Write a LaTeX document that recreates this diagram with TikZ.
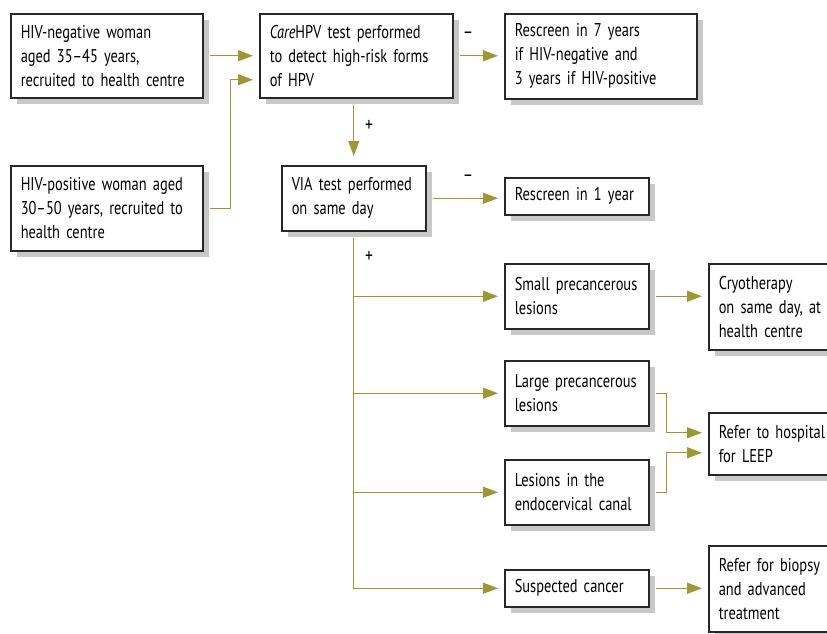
\documentclass[tikz,border=0pt]{standalone}
\usepackage{fontspec}
\setmainfont{PT Sans}[FakeStretch=0.78, WordSpace=0.85]
\usetikzlibrary{positioning, arrows.meta, shadows}
\definecolor{olivearrow}{RGB}{158,152,48}
\definecolor{boxshadow}{RGB}{200,200,200}
\definecolor{boxline}{RGB}{40,40,40}
\tikzset{
  flowbox/.style={draw=boxline, line width=1.5pt, fill=white, anchor=north west,
    align=left, inner xsep=10pt, inner ysep=0pt, font=\fontsize{18.5}{24}\selectfont,
    drop shadow={shadow xshift=6pt, shadow yshift=-6pt, fill=boxshadow, opacity=1}},
  flow/.style={draw=olivearrow, line width=1.4pt, -{Triangle[length=15pt,width=11pt]},
    shorten <=6pt, shorten >=6pt},
  sign/.style={font=\fontsize{20}{20}\selectfont},
}

\begin{document}
\begin{tikzpicture}[x=1pt, y=-1pt]
        \clip (0,0) rectangle (827,633);
        % boxes
        \node [flowbox, text width=172pt, minimum height=84pt] (hivneg) at (10,13) {HIV-negative woman\\aged 35--45 years,\\recruited to health centre};
        \node [flowbox, text width=172pt, minimum height=85pt] (hivpos) at (10,165) {HIV-positive woman aged\\30--50 years, recruited to\\health centre};
        \node [flowbox, text width=173pt, minimum height=84pt] (care) at (259,13) {\textit{Care}HPV test performed\\to detect  high-risk forms\\of HPV};
        \node [flowbox, text width=172pt, minimum height=85pt] (rescreen7) at (504,13) {Rescreen in 7 years\\if HIV-negative and\\3 years if HIV-positive};
        \node [flowbox, text width=124pt, minimum height=65pt] (via) at (281,165) {VIA test performed\\on same day};
        \node [flowbox, text width=124pt, minimum height=37pt] (rescreen1) at (504,177) {Rescreen in 1 year};
        \node [flowbox, text width=124pt, minimum height=65pt] (small) at (504,263) {Small precancerous\\lesions};
        \node [flowbox, text width=124pt, minimum height=65pt] (large) at (504,360) {Large precancerous\\lesions};
        \node [flowbox, text width=124pt, minimum height=65pt] (lesions) at (504,459) {Lesions in the\\endocervical canal};
        \node [flowbox, text width=124pt, minimum height=37pt] (cancer) at (504,569) {Suspected cancer};
        \node [flowbox, text width=110pt, minimum height=86pt] (cryo) at (708,263) {Cryotherapy\\on same day, at\\health centre};
        \node [flowbox, text width=110pt, minimum height=62pt] (hosp) at (708,412) {Refer to hospital\\for LEEP};
        \node [flowbox, text width=110pt, minimum height=86pt] (biopsy) at (708,545) {Refer for biopsy\\and advanced\\treatment};
        % test results
        \node [sign] (minus1) at (468,35) {--};
        \node [sign] (minus2) at (468,178) {--};
        \node [sign] (plus1) at (369,126) {+};
        \node [sign] (plus2) at (369,257) {+};
        % arrows
        \draw [flow] (hivneg.east) -- (care.west);
        \draw [flow] (hivpos.east) -- ++(27,0) |- ([yshift=-24pt]care.west);
        \draw [flow] (care.east) -- (care.east -| rescreen7.west);
        \draw [flow, shorten >=9pt] (via.north |- care.south) -- (via.north);
        \draw [flow] (via.east) -- (via.east -| rescreen1.west);
        \draw [flow] (via.south) |- (cancer.west);
        \draw [flow, shorten <=0pt] (via.south |- small.west) -- (small.west);
        \draw [flow, shorten <=0pt] (via.south |- large.west) -- (large.west);
        \draw [flow, shorten <=0pt] (via.south |- lesions.west) -- (lesions.west);
        \draw [flow] (small.east) -- (small.east -| cryo.west);
        \draw [flow] (large.east) -- ++(17,0) |- ([yshift=11pt]hosp.west);
        \draw [flow] (lesions.east) -- ++(17,0) |- ([yshift=-9pt]hosp.west);
        \draw [flow] (cancer.east) -- (cancer.east -| biopsy.west);
    \end{tikzpicture}
\end{document}
